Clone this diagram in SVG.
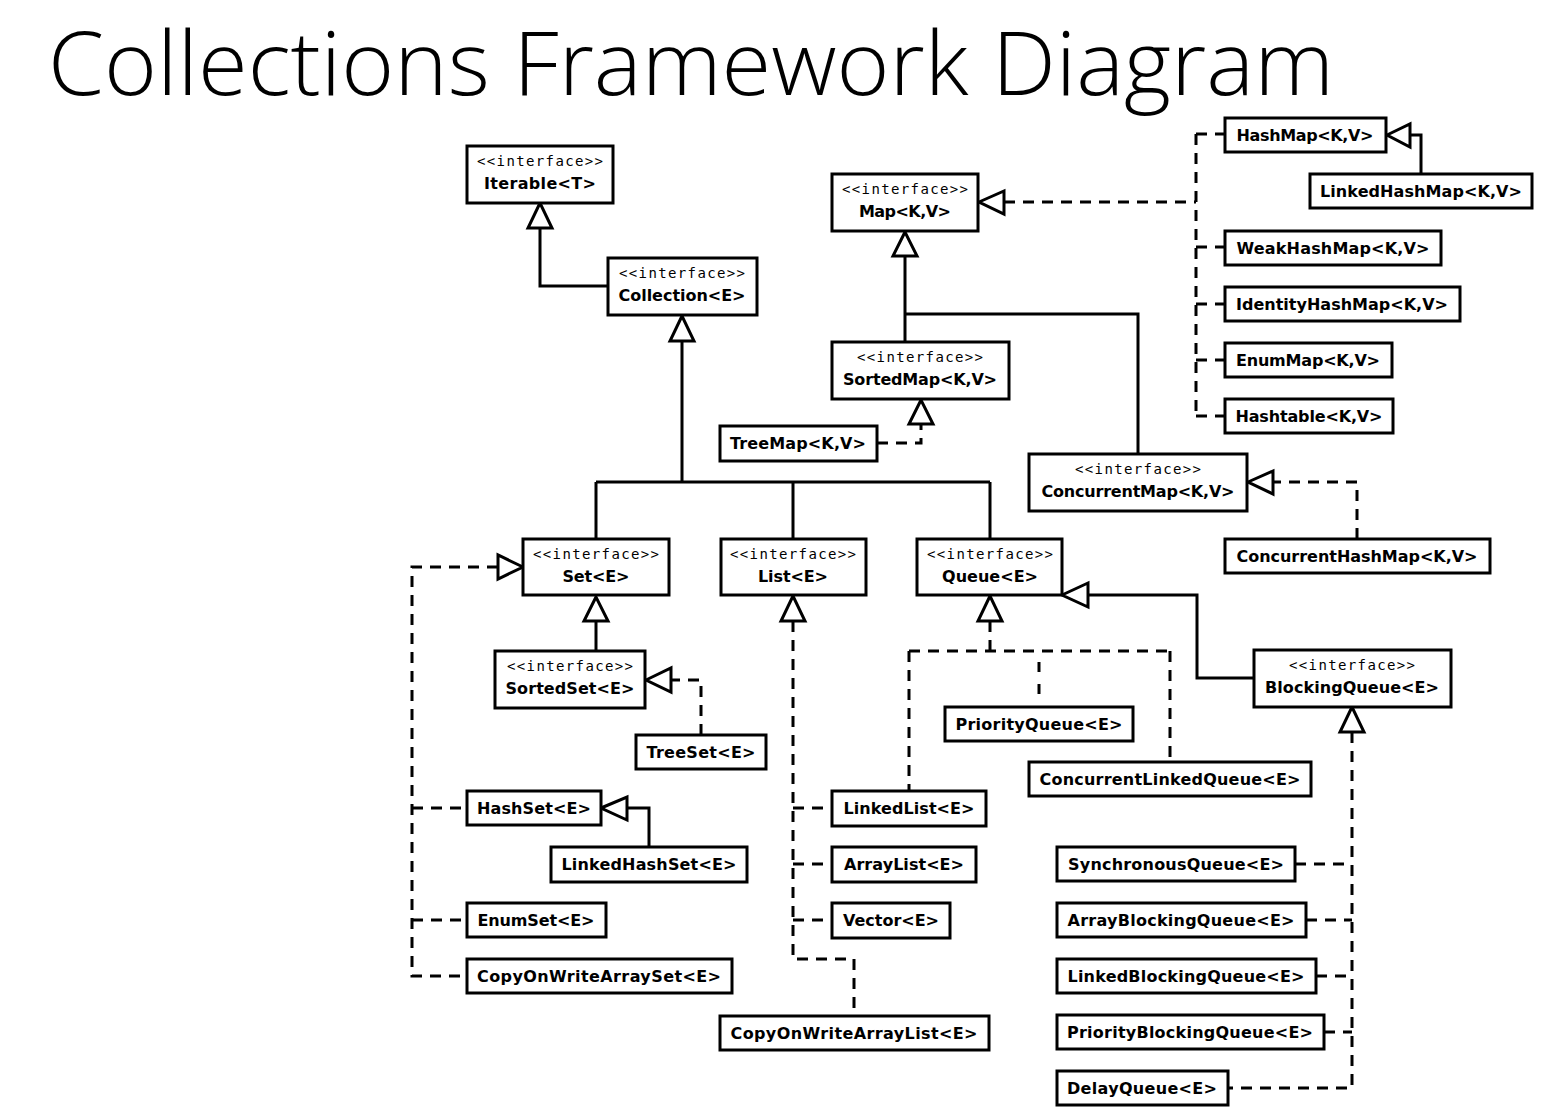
<svg xmlns="http://www.w3.org/2000/svg" width="1567" height="1120" viewBox="0 0 1567 1120">
<style>
.box{fill:#fff;stroke:#000;stroke-width:3}
.n{font-family:"DejaVu Sans","Liberation Sans",sans-serif;font-weight:bold;font-size:16px;text-anchor:middle;fill:#000}
.i{font-family:"DejaVu Sans Mono","Liberation Mono",monospace;font-size:14px;text-anchor:middle;fill:#000}
.s{fill:none;stroke:#000;stroke-width:3}
.d{fill:none;stroke:#000;stroke-width:3;stroke-dasharray:11 8}
.t{fill:#fff;stroke:#000;stroke-width:3;stroke-linejoin:miter}
.title{font-family:"Open Sans","Noto Sans","Liberation Sans",sans-serif;font-weight:300;font-size:88px;fill:#000}
</style>
<rect x="0" y="0" width="1567" height="1120" fill="#fff"/>
<text class="title" x="48" y="95" textLength="1286" lengthAdjust="spacingAndGlyphs">Collections Framework Diagram</text>

<g id="connectors">
  <!-- solid generalizations -->
  <path class="s" d="M540,228 V286 H608"/>
  <path class="s" d="M682,341 V482 M596,482 H990 M596,482 V539 M793,482 V539 M990,482 V539"/>
  <path class="s" d="M905,256 V342 M905,314 H1138 V454"/>
  <path class="s" d="M596,621 V651"/>
  <path class="s" d="M627,808 H649 V847"/>
  <path class="s" d="M1410,135 H1421 V174"/>
  <path class="s" d="M1088,595 H1197 V678 H1254"/>
  <!-- dashed realizations -->
  <path class="d" d="M1004,202 H1196"/>
  <path class="d" d="M1196,134 V416"/>
  <path class="d" d="M1196,134 H1225 M1196,247 H1225 M1196,304 H1225 M1196,360 H1225 M1196,416 H1225"/>
  <path class="d" d="M877,443 H921 V424"/>
  <path class="d" d="M1357,539 V482 H1273"/>
  <path class="d" d="M498,567 H412 V976 H467"/>
  <path class="d" d="M412,808 H467 M412,920 H467"/>
  <path class="d" d="M701,735 V680 H671"/>
  <path class="d" d="M793,621 V959 H854 V1016"/>
  <path class="d" d="M793,808 H832 M793,864 H832 M793,920 H832"/>
  <path class="d" d="M990,621 V651 M909,651 H1170 M909,651 V791 M1170,651 V762"/>
  <path class="d" d="M1039,662 V697" style="stroke-dasharray:10 12"/>
  <path class="d" d="M1352,732 V1088 H1228"/>
  <path class="d" d="M1295,864 H1352 M1306,920 H1352 M1316,976 H1352 M1324,1032 H1352"/>
  <!-- hollow triangles -->
  <polygon class="t" points="540,203 528,228 552,228"/>
  <polygon class="t" points="682,316 670,341 694,341"/>
  <polygon class="t" points="905,232 893,256 917,256"/>
  <polygon class="t" points="921,400 909,424 933,424"/>
  <polygon class="t" points="596,597 584,621 608,621"/>
  <polygon class="t" points="793,596 781,621 805,621"/>
  <polygon class="t" points="990,596 978,621 1002,621"/>
  <polygon class="t" points="1352,707 1340,732 1364,732"/>
  <polygon class="t" points="979,202 1004,191 1004,214"/>
  <polygon class="t" points="1248,482 1273,471 1273,494"/>
  <polygon class="t" points="1062,595 1088,583 1088,607"/>
  <polygon class="t" points="1387,135 1410,124 1410,147"/>
  <polygon class="t" points="646,680 671,668 671,692"/>
  <polygon class="t" points="601,808 627,797 627,820"/>
  <polygon class="t" points="523,567 498,555 498,579"/>
</g>

<g id="iterable"><rect class="box" x="467" y="146" width="146" height="57"/><text class="i" x="540" y="166" textLength="126">&lt;&lt;interface&gt;&gt;</text><text class="n" x="540" y="189" textLength="112">Iterable&lt;T&gt;</text></g>
<g id="collection"><rect class="box" x="608" y="258" width="149" height="57"/><text class="i" x="682" y="278" textLength="126">&lt;&lt;interface&gt;&gt;</text><text class="n" x="682" y="301" textLength="127">Collection&lt;E&gt;</text></g>
<g id="map"><rect class="box" x="832" y="174" width="146" height="57"/><text class="i" x="905" y="194" textLength="126">&lt;&lt;interface&gt;&gt;</text><text class="n" x="905" y="217" textLength="92">Map&lt;K,V&gt;</text></g>
<g id="sortedmap"><rect class="box" x="832" y="342" width="177" height="57"/><text class="i" x="920" y="362" textLength="126">&lt;&lt;interface&gt;&gt;</text><text class="n" x="920" y="385" textLength="154">SortedMap&lt;K,V&gt;</text></g>
<g id="concurrentmap"><rect class="box" x="1029" y="454" width="218" height="57"/><text class="i" x="1138" y="474" textLength="126">&lt;&lt;interface&gt;&gt;</text><text class="n" x="1138" y="497" textLength="193">ConcurrentMap&lt;K,V&gt;</text></g>
<g id="set"><rect class="box" x="523" y="539" width="146" height="56"/><text class="i" x="596" y="559" textLength="126">&lt;&lt;interface&gt;&gt;</text><text class="n" x="596" y="582" textLength="67">Set&lt;E&gt;</text></g>
<g id="list"><rect class="box" x="721" y="539" width="145" height="56"/><text class="i" x="793" y="559" textLength="126">&lt;&lt;interface&gt;&gt;</text><text class="n" x="793" y="582" textLength="70">List&lt;E&gt;</text></g>
<g id="queue"><rect class="box" x="917" y="539" width="145" height="56"/><text class="i" x="990" y="559" textLength="126">&lt;&lt;interface&gt;&gt;</text><text class="n" x="990" y="582" textLength="96">Queue&lt;E&gt;</text></g>
<g id="sortedset"><rect class="box" x="495" y="651" width="150" height="57"/><text class="i" x="570" y="671" textLength="126">&lt;&lt;interface&gt;&gt;</text><text class="n" x="570" y="694" textLength="129">SortedSet&lt;E&gt;</text></g>
<g id="blockingqueue"><rect class="box" x="1254" y="650" width="197" height="57"/><text class="i" x="1352" y="670" textLength="126">&lt;&lt;interface&gt;&gt;</text><text class="n" x="1352" y="693" textLength="174">BlockingQueue&lt;E&gt;</text></g>

<g id="hashmap"><rect class="box" x="1225" y="118" width="161" height="34"/><text class="n" x="1305" y="141" textLength="137">HashMap&lt;K,V&gt;</text></g>
<g id="linkedhashmap"><rect class="box" x="1310" y="174" width="222" height="34"/><text class="n" x="1421" y="197" textLength="202">LinkedHashMap&lt;K,V&gt;</text></g>
<g id="weakhashmap"><rect class="box" x="1225" y="231" width="216" height="34"/><text class="n" x="1333" y="254" textLength="193">WeakHashMap&lt;K,V&gt;</text></g>
<g id="identityhashmap"><rect class="box" x="1225" y="287" width="235" height="34"/><text class="n" x="1342" y="310" textLength="212">IdentityHashMap&lt;K,V&gt;</text></g>
<g id="enummap"><rect class="box" x="1225" y="343" width="167" height="34"/><text class="n" x="1308" y="366" textLength="144">EnumMap&lt;K,V&gt;</text></g>
<g id="hashtable"><rect class="box" x="1225" y="399" width="168" height="34"/><text class="n" x="1309" y="422" textLength="147">Hashtable&lt;K,V&gt;</text></g>
<g id="treemap"><rect class="box" x="720" y="426" width="157" height="35"/><text class="n" x="798" y="449" textLength="136">TreeMap&lt;K,V&gt;</text></g>
<g id="concurrenthashmap"><rect class="box" x="1225" y="539" width="265" height="34"/><text class="n" x="1357" y="562" textLength="241">ConcurrentHashMap&lt;K,V&gt;</text></g>
<g id="treeset"><rect class="box" x="636" y="735" width="130" height="34"/><text class="n" x="701" y="758" textLength="109">TreeSet&lt;E&gt;</text></g>
<g id="hashset"><rect class="box" x="467" y="791" width="134" height="34"/><text class="n" x="534" y="814" textLength="114">HashSet&lt;E&gt;</text></g>
<g id="linkedhashset"><rect class="box" x="551" y="847" width="196" height="35"/><text class="n" x="649" y="870" textLength="175">LinkedHashSet&lt;E&gt;</text></g>
<g id="enumset"><rect class="box" x="467" y="903" width="139" height="34"/><text class="n" x="536" y="926" textLength="117">EnumSet&lt;E&gt;</text></g>
<g id="copyonwritearrayset"><rect class="box" x="467" y="959" width="265" height="34"/><text class="n" x="599" y="982" textLength="244">CopyOnWriteArraySet&lt;E&gt;</text></g>
<g id="priorityqueue"><rect class="box" x="945" y="707" width="188" height="34"/><text class="n" x="1039" y="730" textLength="167">PriorityQueue&lt;E&gt;</text></g>
<g id="concurrentlinkedqueue"><rect class="box" x="1029" y="762" width="282" height="34"/><text class="n" x="1170" y="785" textLength="261">ConcurrentLinkedQueue&lt;E&gt;</text></g>
<g id="linkedlist"><rect class="box" x="832" y="791" width="154" height="35"/><text class="n" x="909" y="814" textLength="131">LinkedList&lt;E&gt;</text></g>
<g id="arraylist"><rect class="box" x="832" y="847" width="144" height="35"/><text class="n" x="904" y="870" textLength="120">ArrayList&lt;E&gt;</text></g>
<g id="vector"><rect class="box" x="832" y="903" width="118" height="35"/><text class="n" x="891" y="926" textLength="96">Vector&lt;E&gt;</text></g>
<g id="copyonwritearraylist"><rect class="box" x="720" y="1016" width="269" height="34"/><text class="n" x="854" y="1039" textLength="247">CopyOnWriteArrayList&lt;E&gt;</text></g>
<g id="synchronousqueue"><rect class="box" x="1057" y="847" width="238" height="34"/><text class="n" x="1176" y="870" textLength="216">SynchronousQueue&lt;E&gt;</text></g>
<g id="arrayblockingqueue"><rect class="box" x="1057" y="903" width="249" height="34"/><text class="n" x="1181" y="926" textLength="227">ArrayBlockingQueue&lt;E&gt;</text></g>
<g id="linkedblockingqueue"><rect class="box" x="1057" y="959" width="259" height="34"/><text class="n" x="1186" y="982" textLength="237">LinkedBlockingQueue&lt;E&gt;</text></g>
<g id="priorityblockingqueue"><rect class="box" x="1057" y="1015" width="267" height="34"/><text class="n" x="1190" y="1038" textLength="246">PriorityBlockingQueue&lt;E&gt;</text></g>
<g id="delayqueue"><rect class="box" x="1057" y="1071" width="171" height="34"/><text class="n" x="1142" y="1094" textLength="150">DelayQueue&lt;E&gt;</text></g>
</svg>
